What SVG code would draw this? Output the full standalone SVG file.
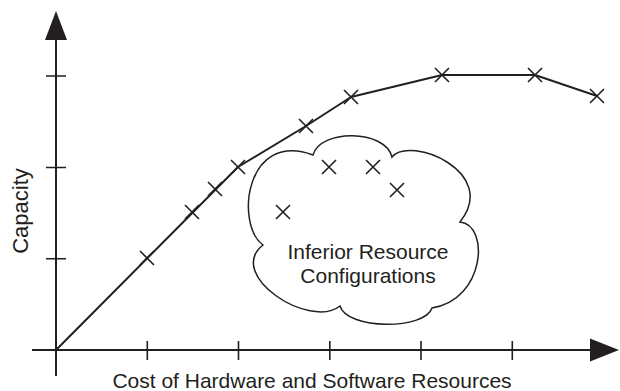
<svg xmlns="http://www.w3.org/2000/svg" width="620" height="391" viewBox="0 0 620 391">
<style>
.ax{stroke:#231f20;stroke-width:2;fill:none}
.tk{stroke:#231f20;stroke-width:1.6;fill:none}
.cv{stroke:#231f20;stroke-width:2;fill:none;stroke-linejoin:round}
.cl{stroke:#231f20;stroke-width:1.5;fill:#fff}
.mk{stroke:#231f20;stroke-width:1.6;fill:none}
.hd{fill:#231f20;stroke:none}
.t{font-family:"Liberation Sans",Arial,sans-serif;font-size:21px;fill:#231f20}
</style>
<defs>
<path id="x" d="M-7,-7L7,7M-7,7L7,-7" class="mk"/>
</defs>
<rect width="620" height="391" fill="#fff"/>
<g id="axes">
<line class="ax" x1="56" y1="38" x2="56" y2="376"/>
<line class="ax" x1="32" y1="350" x2="592" y2="350"/>
<polygon class="hd" points="56,11 45,40 67,40"/>
<polygon class="hd" points="619,350 590,338.5 590,361.5"/>
<path class="tk" d="M46,76H66M46,167.5H66M46,258.7H66M147.3,341V360M238.5,341V360M329.8,341V360M421,341V360M512.3,341V360"/>
</g>
<g id="cloud">
<path class="cl" d="M313,155 C320,129 385,129 392,157 C410,135 500,172 460,222 C490,225 485,300 432,308 C425,330 347,330 340,306 C310,330 225,275 263,245 C235,225 245,130 313,155 Z"/>
<use href="#x" x="283" y="212"/>
<use href="#x" x="329" y="167"/>
<use href="#x" x="373" y="167"/>
<use href="#x" x="397" y="190"/>
<text class="t" x="368" y="259" text-anchor="middle">Inferior Resource</text>
<text class="t" x="368" y="283" text-anchor="middle">Configurations</text>
</g>
<g id="connectors">
<polyline class="cv" points="56,350 238,167 306,126 351,97 442,75 535,75 597,96"/>
<use href="#x" x="147" y="258"/>
<use href="#x" x="192" y="212"/>
<use href="#x" x="215" y="189"/>
<use href="#x" x="238" y="167"/>
<use href="#x" x="306" y="126"/>
<use href="#x" x="351" y="97"/>
<use href="#x" x="442" y="75"/>
<use href="#x" x="535" y="75"/>
<use href="#x" x="597" y="96"/>
</g>
<g id="labels">
<text class="t" x="312" y="388" text-anchor="middle">Cost of Hardware and Software Resources</text>
<text class="t" transform="translate(28,211) rotate(-90)" text-anchor="middle" style="font-size:22px">Capacity</text>
</g>
</svg>
